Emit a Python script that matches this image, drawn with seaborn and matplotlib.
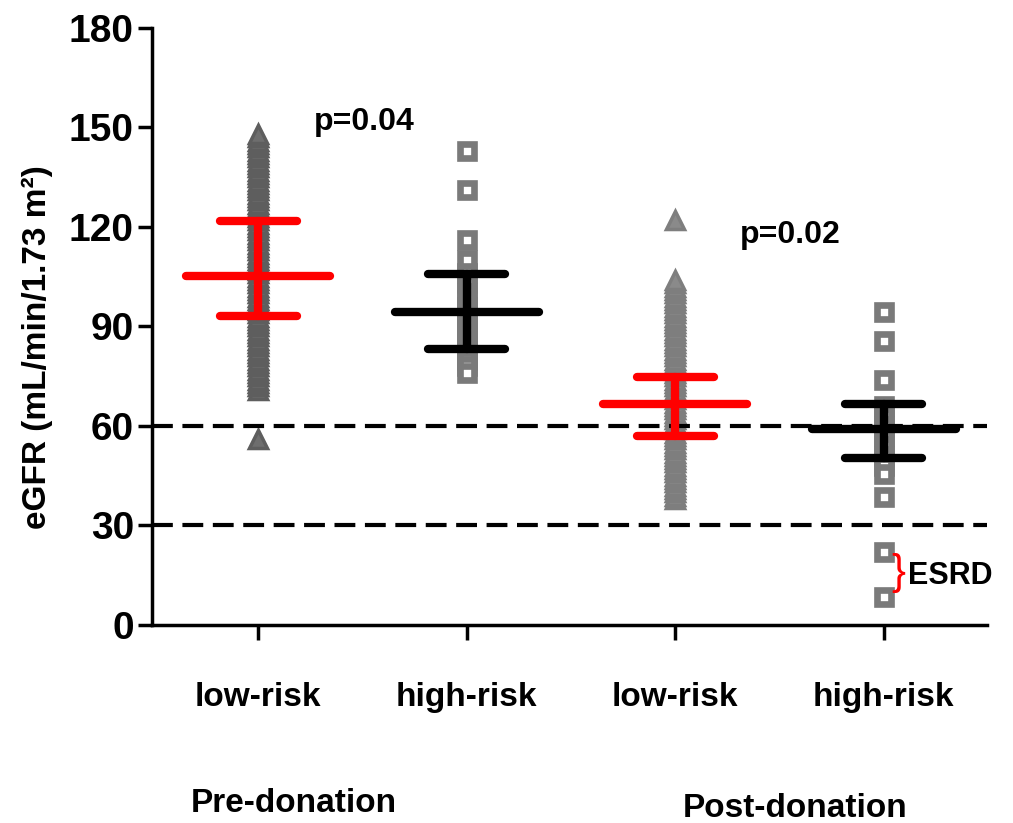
import pandas as pd
import seaborn as sns
import matplotlib.pyplot as plt

groups = ["pre_low", "pre_high", "post_low", "post_high"]
tick_labels = ["low-risk", "high-risk", "low-risk", "high-risk"]

# eGFR values
pre_low = [56, 71, 72, 73, 74, 75, 76, 77, 78, 79, 80, 81, 82, 83, 84, 85, 86,
           87, 88, 89, 90, 91, 92, 93, 94, 95, 96, 97, 98, 99, 100, 101, 102,
           103, 104, 105, 106, 107, 108, 109, 110, 111, 112, 113, 114, 115,
           116, 117, 118, 119, 120, 121, 122, 123, 124, 125, 126, 127, 128,
           129, 130, 131, 132, 133, 134, 135, 136, 137, 138, 139, 140, 141,
           142, 143, 144, 145, 146, 147, 148]
pre_high = [143, 131, 116, 110, 106, 103, 100, 98, 96, 94, 92, 90, 88, 86, 84,
            82, 80, 78, 76]
post_low = [122, 38, 39, 40, 41, 42, 43, 44, 45, 46, 47, 48, 49, 50, 51, 52,
            53, 54, 55, 56, 57, 58, 59, 60, 61, 62, 63, 64, 65, 66, 67, 68, 69,
            70, 71, 72, 73, 74, 75, 76, 77, 78, 79, 80, 81, 82, 83, 84, 85, 86,
            87, 88, 89, 90, 91, 92, 93, 94, 95, 96, 97, 98, 99, 100, 101, 102,
            103, 104]
post_high = [94.5, 85.5, 74, 66, 63, 60, 57, 54, 51, 48, 45.5, 38.5, 22, 8.5]

means = [105.3, 94.4, 66.7, 59.0]
sd_low = [93.2, 83.2, 57.0, 50.4]
sd_high = [121.8, 105.8, 74.7, 66.7]

bar_colors = ["#ff0000", "black", "#ff0000", "black"]
markers = ["^", "s", "^", "s"]
point_colors = ["#5e5e5e", "#7a7a7a", "#7e7e7e", "#7a7a7a"]
face_colors = ["#6e6e6e", "white", "#8a8a8a", "white"]

df = pd.DataFrame({
    "group": (["pre_low"] * len(pre_low) + ["pre_high"] * len(pre_high)
              + ["post_low"] * len(post_low) + ["post_high"] * len(post_high)),
    "egfr": pre_low + pre_high + post_low + post_high,
})

sns.set_theme(style="ticks")
plt.rcParams["font.family"] = ["Liberation Sans", "DejaVu Sans"]
plt.rcParams["text.color"] = "black"
plt.rcParams["axes.labelcolor"] = "black"

fig = plt.figure(figsize=(10.13, 8.23), dpi=100)
ax = fig.add_axes([0.150, 0.2406, 0.8243, 0.7254])

for g, m, c, fc in zip(groups, markers, point_colors, face_colors):
    sub = df[df["group"] == g]
    if m == "^":
        sns.stripplot(data=sub, x="group", y="egfr", order=groups, jitter=False,
                      marker=m, size=13, color=c, facecolor=fc,
                      edgecolor=c, linewidth=2.5, ax=ax, zorder=2)
    else:
        sns.stripplot(data=sub, x="group", y="egfr", order=groups, jitter=False,
                      marker=m, size=10, color=c, facecolor=fc,
                      edgecolor=c, linewidth=4.8, ax=ax, zorder=2)
for coll in ax.collections:
    coll.set_joinstyle("miter")

# reference lines
for yv in [60, 30]:
    ax.axhline(yv, color="black", lw=3, dashes=(5, 2.3), zorder=3)

# mean and SD bars
for i in range(len(groups)):
    kw = dict(color=bar_colors[i], lw=6, capstyle="round", zorder=4)
    ax.hlines(means[i], i - 0.345, i + 0.345, **kw)
    ax.hlines([sd_low[i], sd_high[i]], i - 0.185, i + 0.185, **kw)
    ax.vlines(i, sd_low[i], sd_high[i], **kw)

ax.set_xlim(-0.51, 3.495)
ax.set_ylim(0, 180)
ax.set_yticks([0, 30, 60, 90, 120, 150, 180])
ax.set_xticks(range(4))
ax.set_xticklabels(tick_labels)
ax.set_xlabel("")
ax.set_ylabel("eGFR (mL/min/1.73 m²)", fontsize=24, fontweight="bold")
ax.yaxis.set_label_coords(-0.118, 0.466)

sns.despine(ax=ax)
for s in ["left", "bottom"]:
    ax.spines[s].set_linewidth(2.5)
    ax.spines[s].set_color("black")
ax.tick_params(axis="y", length=10, width=2.5, labelsize=28, pad=3, colors="black")
ax.tick_params(axis="x", length=11, width=2.5, labelsize=24, pad=30, colors="black")
for lbl in ax.get_yticklabels() + ax.get_xticklabels():
    lbl.set_fontweight("bold")

ax.text(0.507, 151.6, "p=0.04", ha="center", va="center", fontsize=23,
        fontweight="bold")
ax.text(2.55, 117.6, "p=0.02", ha="center", va="center", fontsize=23,
        fontweight="bold")
ax.text(3.115, 14.8, "ESRD", ha="left", va="center", fontsize=22,
        fontweight="bold")
ax.text(3.07, 15.8, "}", ha="center", va="center", fontsize=30, color="#ff0000")

fig.text(0.290, 0.0243, "Pre-donation", ha="center", va="center", fontsize=24,
         fontweight="bold")
fig.text(0.785, 0.018, "Post-donation", ha="center", va="center", fontsize=24,
         fontweight="bold")

fig.savefig("out.png", dpi=100, facecolor="white")
